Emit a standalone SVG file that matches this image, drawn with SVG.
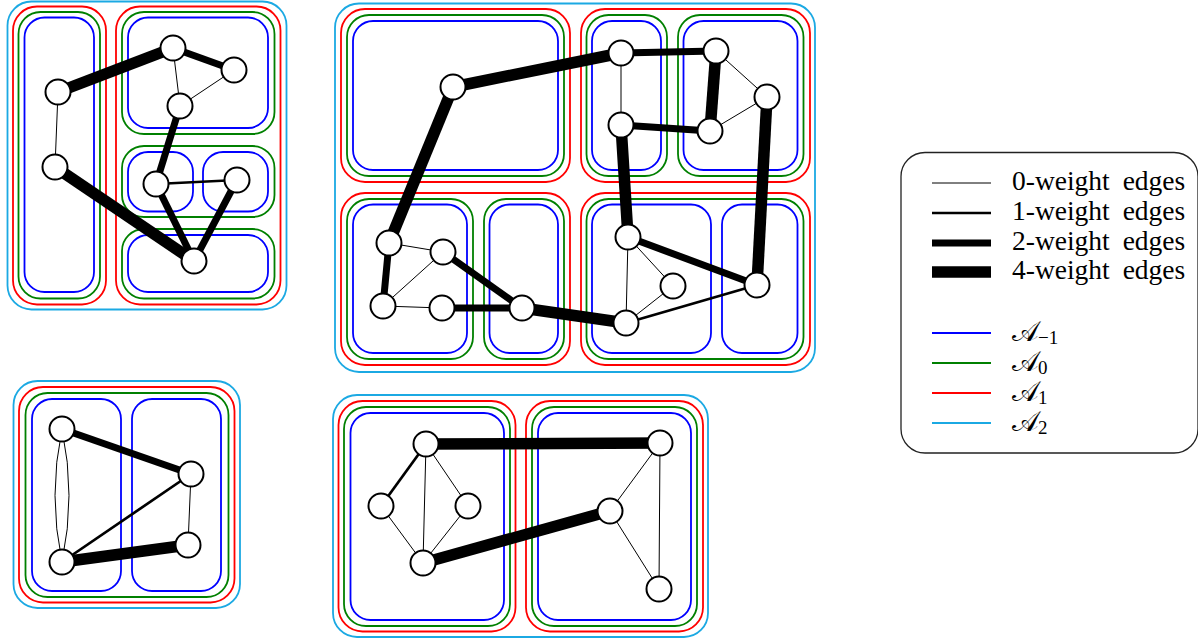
<svg xmlns="http://www.w3.org/2000/svg" width="1198" height="640" viewBox="0 0 1198 640">
  <style>
    .c2 { fill: none; stroke: #1BA9E3; stroke-width: 1.8; }
    .c1 { fill: none; stroke: #FF0000; stroke-width: 1.8; }
    .c0 { fill: none; stroke: #008000; stroke-width: 1.8; }
    .cm { fill: none; stroke: #0000FF; stroke-width: 1.8; }
    .e { fill: none; stroke: #000; stroke-linecap: butt; }
    .w0 { stroke-width: 1; }
    .w1 { stroke-width: 2.7; }
    .w2 { stroke-width: 7; }
    .w4 { stroke-width: 11.5; }
    .n { fill: #fff; stroke: #000; stroke-width: 2; }
    .lbl { font-family: "Liberation Serif", "DejaVu Serif", serif; font-size: 27.5px; word-spacing: 6px; fill: #000; }
    .sub { font-family: "Liberation Serif", "DejaVu Serif", serif; font-size: 19px; fill: #000; }
    .frame { fill: #fff; stroke: #222; stroke-width: 1.3; }
  </style>

  <!-- cluster hierarchy: cyan = level 2, red = level 1, green = level 0, blue = level -1 -->
  <g id="clusters">
    <!-- panel top-left -->
    <rect class="c2" x="7.5" y="1.5" width="279" height="308" rx="24"/>
    <rect class="c1" x="13" y="6.5" width="93" height="298" rx="24"/>
    <rect class="c0" x="18.5" y="12" width="81.5" height="286.5" rx="22"/>
    <rect class="cm" x="24.5" y="17.5" width="69.5" height="274.5" rx="20"/>
    <rect class="c1" x="116" y="6.5" width="164.5" height="298" rx="24"/>
    <rect class="c0" x="122" y="12" width="152.5" height="122" rx="22"/>
    <rect class="cm" x="128" y="17.5" width="140" height="110.5" rx="20"/>
    <rect class="c0" x="122" y="146" width="152.5" height="71" rx="22"/>
    <rect class="cm" x="128" y="152" width="65" height="59.5" rx="20"/>
    <rect class="cm" x="203" y="152" width="65" height="59.5" rx="20"/>
    <rect class="c0" x="122" y="229" width="152.5" height="69.5" rx="22"/>
    <rect class="cm" x="128" y="235" width="140" height="57" rx="20"/>

    <!-- panel top-middle -->
    <rect class="c2" x="335" y="3.5" width="480" height="368.5" rx="24"/>
    <rect class="c1" x="341" y="9" width="229" height="173" rx="24"/>
    <rect class="c0" x="347" y="15" width="217" height="161" rx="22"/>
    <rect class="cm" x="353" y="21" width="205" height="149" rx="20"/>
    <rect class="c1" x="581" y="9" width="229" height="173" rx="24"/>
    <rect class="c0" x="586.5" y="15" width="80.5" height="161" rx="22"/>
    <rect class="cm" x="592" y="21" width="69" height="149" rx="20"/>
    <rect class="c0" x="678" y="15" width="125.5" height="161" rx="22"/>
    <rect class="cm" x="683.5" y="21" width="114" height="149" rx="20"/>
    <rect class="c1" x="341" y="193" width="229" height="172" rx="24"/>
    <rect class="c0" x="347" y="199" width="126" height="160" rx="22"/>
    <rect class="cm" x="353" y="204.5" width="114" height="148.5" rx="20"/>
    <rect class="c0" x="484" y="199" width="80" height="160" rx="22"/>
    <rect class="cm" x="489.5" y="204.5" width="68.5" height="148.5" rx="20"/>
    <rect class="c1" x="581" y="193" width="229" height="172" rx="24"/>
    <rect class="c0" x="586.5" y="199" width="217" height="160" rx="22"/>
    <rect class="cm" x="592" y="204.5" width="119" height="148.5" rx="20"/>
    <rect class="cm" x="722" y="204.5" width="75.5" height="148.5" rx="20"/>

    <!-- panel bottom-left -->
    <rect class="c2" x="13.5" y="381" width="226.5" height="227" rx="24"/>
    <rect class="c1" x="19" y="387" width="215.5" height="215.5" rx="24"/>
    <rect class="c0" x="25.5" y="393" width="203" height="204" rx="22"/>
    <rect class="cm" x="32" y="399" width="89" height="192" rx="20"/>
    <rect class="cm" x="132" y="399" width="89" height="192" rx="20"/>

    <!-- panel bottom-middle -->
    <rect class="c2" x="333" y="395" width="375" height="242" rx="24"/>
    <rect class="c1" x="338.5" y="401" width="177" height="230.5" rx="24"/>
    <rect class="c0" x="344" y="407" width="166" height="219" rx="22"/>
    <rect class="cm" x="350.5" y="413" width="153.5" height="207" rx="20"/>
    <rect class="c1" x="526" y="401" width="177" height="230.5" rx="24"/>
    <rect class="c0" x="532" y="407" width="165" height="219" rx="22"/>
    <rect class="cm" x="538" y="413" width="153" height="207" rx="20"/>
  </g>

  <g id="connectors">
    <!-- top-left graph -->
    <line class="e w4" x1="58" y1="92" x2="173" y2="48"/>
    <line class="e w0" x1="58" y1="92" x2="55" y2="167"/>
    <line class="e w2" x1="173" y1="48" x2="234" y2="70"/>
    <line class="e w0" x1="173" y1="48" x2="180" y2="106"/>
    <line class="e w0" x1="234" y1="70" x2="180" y2="106"/>
    <line class="e w2" x1="180" y1="106" x2="156" y2="184"/>
    <line class="e w1" x1="156" y1="184" x2="237" y2="180"/>
    <line class="e w2" x1="156" y1="184" x2="194" y2="261"/>
    <line class="e w2" x1="237" y1="180" x2="194" y2="261"/>
    <line class="e w4" x1="55" y1="167" x2="194" y2="261"/>

    <!-- top-middle graph -->
    <line class="e w4" x1="453" y1="87" x2="621" y2="53"/>
    <line class="e w4" x1="453" y1="87" x2="389" y2="243"/>
    <line class="e w2" x1="621" y1="53" x2="716" y2="51"/>
    <line class="e w0" x1="621" y1="53" x2="621" y2="125"/>
    <line class="e w4" x1="716" y1="51" x2="710" y2="131"/>
    <line class="e w0" x1="716" y1="51" x2="767" y2="97"/>
    <line class="e w0" x1="767" y1="97" x2="710" y2="131"/>
    <line class="e w2" x1="621" y1="125" x2="710" y2="131"/>
    <line class="e w4" x1="767" y1="97" x2="757" y2="285"/>
    <line class="e w4" x1="621" y1="125" x2="628" y2="237"/>
    <line class="e w2" x1="628" y1="237" x2="757" y2="285"/>
    <line class="e w0" x1="628" y1="237" x2="673" y2="286"/>
    <line class="e w0" x1="628" y1="237" x2="626" y2="323"/>
    <line class="e w0" x1="673" y1="286" x2="626" y2="323"/>
    <line class="e w1" x1="626" y1="323" x2="757" y2="285"/>
    <line class="e w0" x1="389" y1="243" x2="443" y2="252"/>
    <line class="e w2" x1="389" y1="243" x2="383" y2="306"/>
    <line class="e w0" x1="443" y1="252" x2="383" y2="306"/>
    <line class="e w0" x1="383" y1="306" x2="442" y2="308"/>
    <line class="e w2" x1="442" y1="308" x2="522" y2="308"/>
    <line class="e w2" x1="443" y1="252" x2="522" y2="308"/>
    <line class="e w4" x1="522" y1="308" x2="626" y2="323"/>

    <!-- bottom-left graph -->
    <path class="e w0" d="M62,429 Q48,495.5 62,562"/>
    <path class="e w0" d="M62,429 Q76,495.5 62,562"/>
    <line class="e w2" x1="62" y1="429" x2="191" y2="474"/>
    <line class="e w1" x1="62" y1="562" x2="191" y2="474"/>
    <line class="e w0" x1="191" y1="474" x2="188" y2="545"/>
    <line class="e w4" x1="62" y1="562" x2="188" y2="545"/>

    <!-- bottom-middle graph -->
    <line class="e w4" x1="426" y1="444" x2="660" y2="443"/>
    <line class="e w1" x1="426" y1="444" x2="381" y2="506"/>
    <line class="e w0" x1="426" y1="444" x2="423" y2="563"/>
    <line class="e w0" x1="426" y1="444" x2="468" y2="506"/>
    <line class="e w0" x1="381" y1="506" x2="423" y2="563"/>
    <line class="e w0" x1="468" y1="506" x2="423" y2="563"/>
    <line class="e w4" x1="423" y1="563" x2="610" y2="511"/>
    <line class="e w0" x1="660" y1="443" x2="610" y2="511"/>
    <line class="e w0" x1="660" y1="443" x2="659" y2="589"/>
    <line class="e w0" x1="610" y1="511" x2="659" y2="589"/>
  </g>

  <!-- vertices -->
  <g id="tl-a"><circle class="n" cx="58" cy="92" r="12.5"/></g>
  <g id="tl-b"><circle class="n" cx="173" cy="48" r="12.5"/></g>
  <g id="tl-c"><circle class="n" cx="234" cy="70" r="12.5"/></g>
  <g id="tl-d"><circle class="n" cx="180" cy="106" r="12.5"/></g>
  <g id="tl-e"><circle class="n" cx="55" cy="167" r="12.5"/></g>
  <g id="tl-f"><circle class="n" cx="156" cy="184" r="12.5"/></g>
  <g id="tl-g"><circle class="n" cx="237" cy="180" r="12.5"/></g>
  <g id="tl-h"><circle class="n" cx="194" cy="261" r="12.5"/></g>

  <g id="tm-1"><circle class="n" cx="453" cy="87" r="12.5"/></g>
  <g id="tm-2"><circle class="n" cx="621" cy="53" r="12.5"/></g>
  <g id="tm-3"><circle class="n" cx="716" cy="51" r="12.5"/></g>
  <g id="tm-4"><circle class="n" cx="767" cy="97" r="12.5"/></g>
  <g id="tm-5"><circle class="n" cx="621" cy="125" r="12.5"/></g>
  <g id="tm-6"><circle class="n" cx="710" cy="131" r="12.5"/></g>
  <g id="tm-7"><circle class="n" cx="389" cy="243" r="12.5"/></g>
  <g id="tm-8"><circle class="n" cx="443" cy="252" r="12.5"/></g>
  <g id="tm-9"><circle class="n" cx="383" cy="306" r="12.5"/></g>
  <g id="tm-10"><circle class="n" cx="442" cy="308" r="12.5"/></g>
  <g id="tm-11"><circle class="n" cx="522" cy="308" r="12.5"/></g>
  <g id="tm-12"><circle class="n" cx="628" cy="237" r="12.5"/></g>
  <g id="tm-13"><circle class="n" cx="673" cy="286" r="12.5"/></g>
  <g id="tm-14"><circle class="n" cx="626" cy="323" r="12.5"/></g>
  <g id="tm-15"><circle class="n" cx="757" cy="285" r="12.5"/></g>

  <g id="bl-1"><circle class="n" cx="62" cy="429" r="12.5"/></g>
  <g id="bl-2"><circle class="n" cx="191" cy="474" r="12.5"/></g>
  <g id="bl-3"><circle class="n" cx="188" cy="545" r="12.5"/></g>
  <g id="bl-4"><circle class="n" cx="62" cy="562" r="12.5"/></g>

  <g id="bm-1"><circle class="n" cx="426" cy="444" r="12.5"/></g>
  <g id="bm-2"><circle class="n" cx="381" cy="506" r="12.5"/></g>
  <g id="bm-3"><circle class="n" cx="468" cy="506" r="12.5"/></g>
  <g id="bm-4"><circle class="n" cx="423" cy="563" r="12.5"/></g>
  <g id="bm-5"><circle class="n" cx="660" cy="443" r="12.5"/></g>
  <g id="bm-6"><circle class="n" cx="610" cy="511" r="12.5"/></g>
  <g id="bm-7"><circle class="n" cx="659" cy="589" r="12.5"/></g>

  <!-- legend -->
  <g id="legend">
    <rect class="frame" x="901" y="152.5" width="297" height="300.5" rx="24"/>
    <line class="e w0" x1="932" y1="183" x2="991" y2="183"/>
    <line class="e w1" x1="932" y1="213" x2="991" y2="213"/>
    <line class="e w2" x1="932" y1="243" x2="991" y2="243"/>
    <line class="e w4" x1="932" y1="272" x2="991" y2="272"/>
    <text class="lbl" x="1012" y="190">0-weight edges</text>
    <text class="lbl" x="1012" y="220">1-weight edges</text>
    <text class="lbl" x="1012" y="250">2-weight edges</text>
    <text class="lbl" x="1012" y="279">4-weight edges</text>
    <line class="cm" x1="932" y1="333" x2="991" y2="333"/>
    <line class="c0" x1="932" y1="363" x2="991" y2="363"/>
    <line class="c1" x1="932" y1="393" x2="991" y2="393"/>
    <line class="c2" x1="932" y1="423" x2="991" y2="423"/>
    <text class="lbl" x="1012" y="341">𝒜<tspan class="sub" dy="3">−1</tspan></text>
    <text class="lbl" x="1012" y="371">𝒜<tspan class="sub" dy="3">0</tspan></text>
    <text class="lbl" x="1012" y="401">𝒜<tspan class="sub" dy="3">1</tspan></text>
    <text class="lbl" x="1012" y="431">𝒜<tspan class="sub" dy="3">2</tspan></text>
  </g>
</svg>
